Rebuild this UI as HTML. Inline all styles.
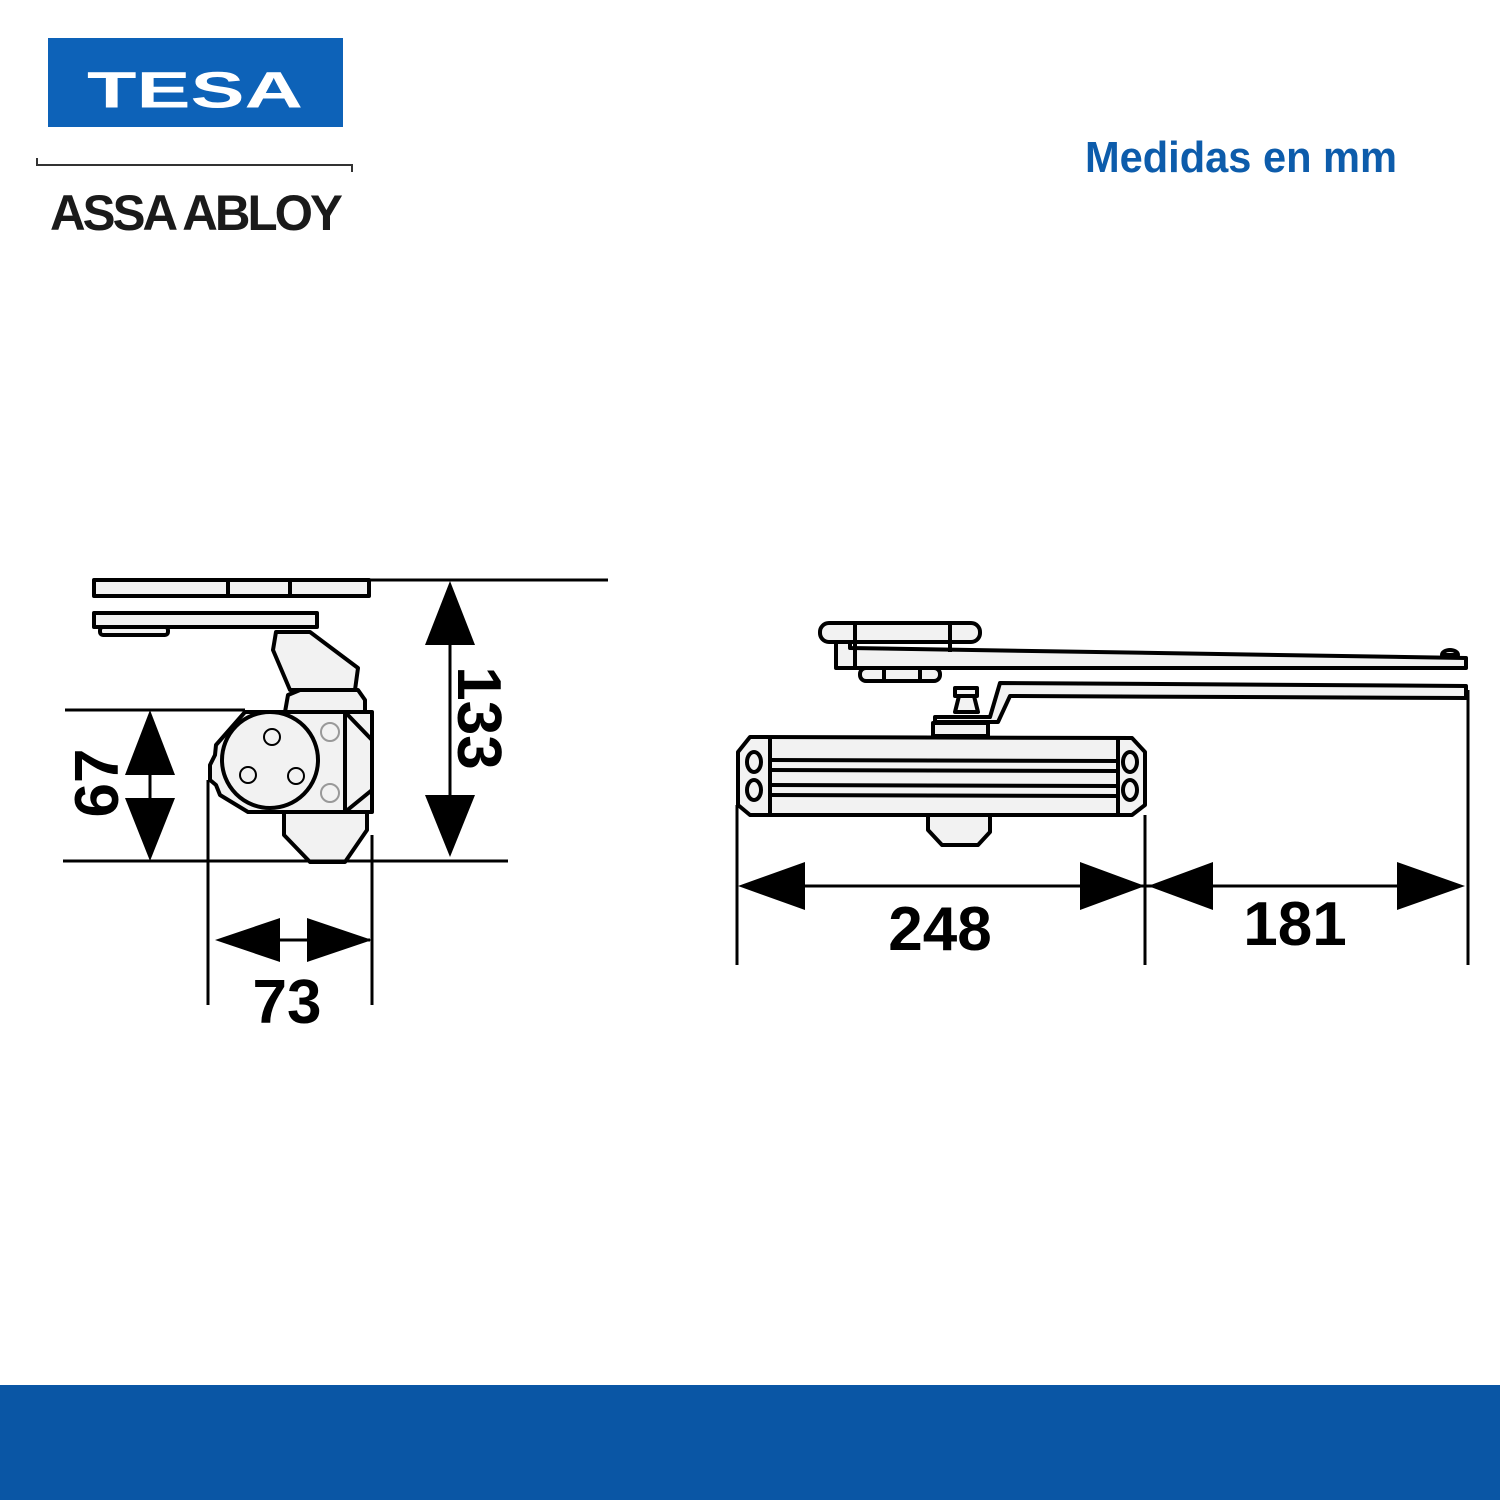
<!DOCTYPE html>
<html><head><meta charset="utf-8"><style>html,body{margin:0;padding:0;background:#fff}svg{display:block}</style></head><body>
<svg width="1500" height="1500" viewBox="0 0 1500 1500" xmlns="http://www.w3.org/2000/svg">
<rect x="48" y="38" width="295" height="89" fill="#0d62b8"/>
<text x="87" y="105" font-family="Liberation Sans, sans-serif" font-weight="bold" font-size="46" fill="#fff" textLength="216" lengthAdjust="spacingAndGlyphs" transform="translate(0,-8) scale(1,1.1)">TESA</text>
<path d="M37 158 V165 H352 V172" fill="none" stroke="#333" stroke-width="2"/>
<text x="50" y="230" font-family="Liberation Sans, sans-serif" font-weight="bold" font-size="50" fill="#1a1a1a" textLength="290" lengthAdjust="spacingAndGlyphs" letter-spacing="-3">ASSA ABLOY</text>
<text x="1085" y="172" font-family="Liberation Sans, sans-serif" font-weight="bold" font-size="44" fill="#0d5cab" textLength="312" lengthAdjust="spacingAndGlyphs">Medidas en mm</text>
<rect x="0" y="1385" width="1500" height="115" fill="#0a56a5"/>

<g fill="#f2f2f2" stroke="#000" stroke-width="4" stroke-linejoin="round">
<rect x="94" y="580" width="275" height="16"/>
<line x1="228" y1="580" x2="228" y2="596"/><line x1="290" y1="580" x2="290" y2="596"/>
<rect x="94" y="613" width="223" height="14"/>
<rect x="100" y="627" width="68" height="8" rx="3"/>
<path d="M276 632 L310 632 L358 668 L355 690 L290 690 L273 650 Z"/>
<path d="M285 712 L288 695 L300 690 L358 690 L365 700 L365 712 Z"/>
<path d="M245 712 L372 712 L372 812 L248 812 L220 795 L216 785 L210 780 L210 765 L215 755 L216 745 Z"/>
<circle cx="270" cy="760" r="48"/>
<line x1="345" y1="712" x2="345" y2="812"/>
<path d="M345 712 L372 740 M345 812 L372 790"/>
<path d="M284 812 L367 812 L367 830 L345 862 L310 862 L284 835 Z"/>
</g>
<g fill="none" stroke="#000" stroke-width="2">
<circle cx="272" cy="737" r="8"/><circle cx="248" cy="775" r="8"/><circle cx="296" cy="776" r="8"/>
<circle cx="330" cy="732" r="9" stroke="#999"/><circle cx="330" cy="793" r="9" stroke="#999"/>
</g>
<g stroke="#000" stroke-width="3" fill="none">
<line x1="370" y1="580" x2="608" y2="580"/>
<line x1="65" y1="710" x2="245" y2="710"/>
<line x1="63" y1="861" x2="508" y2="861"/>
<line x1="150" y1="720" x2="150" y2="850"/>
<line x1="450" y1="590" x2="450" y2="850"/>
<line x1="208" y1="780" x2="208" y2="1005"/>
<line x1="372" y1="835" x2="372" y2="1005"/>
<line x1="220" y1="940" x2="370" y2="940"/>
</g>
<g fill="#000">
<polygon points="150,710 125,775 175,775"/><polygon points="150,861 125,798 175,798"/>
<polygon points="450,581 425,645 475,645"/><polygon points="450,857 425,795 475,795"/>
<polygon points="215,940 280,918 280,962"/><polygon points="372,940 307,918 307,962"/>
</g>
<g font-family="Liberation Sans, sans-serif" font-weight="bold" fill="#000" font-size="62">
<text x="287" y="1023" text-anchor="middle">73</text>
<text transform="translate(458,718) rotate(90)" text-anchor="middle">133</text>
<text transform="translate(118,783) rotate(-90)" text-anchor="middle">67</text>
<text x="940" y="950" text-anchor="middle">248</text>
<text x="1295" y="945" text-anchor="middle">181</text>
</g>

<g fill="#f2f2f2" stroke="#000" stroke-width="4" stroke-linejoin="round">
<path d="M836 635 L836 668 L1466 668 L1466 658 L850 648 L850 635 Z"/>
<rect x="820" y="623" width="160" height="19" rx="9"/>
<line x1="855" y1="623" x2="855" y2="668"/><line x1="950" y1="623" x2="950" y2="652"/>
<rect x="860" y="668" width="80" height="13" rx="6"/>
<line x1="884" y1="668" x2="884" y2="681"/><line x1="920" y1="668" x2="920" y2="681"/>
<path d="M935 717 L990 717 L1000 683 L1466 686 L1466 698 L1010 696 L998 722 L935 722 Z"/>
<path d="M1442 655 a8 5 0 1 1 16 0 Z"/>
<rect x="955" y="688" width="22" height="8"/>
<path d="M959 696 L974 696 L978 712 L955 712 Z"/>
<rect x="933" y="723" width="55" height="13"/>
<path d="M750 737 L1132 738 L1145 752 L1145 805 L1132 815 L750 815 L738 805 L738 752 Z"/>
<line x1="770" y1="737" x2="770" y2="815"/><line x1="1118" y1="738" x2="1118" y2="815"/>
<line x1="770" y1="760" x2="1118" y2="761"/><line x1="770" y1="770" x2="1118" y2="771"/>
<line x1="770" y1="785" x2="1118" y2="786"/><line x1="770" y1="795" x2="1118" y2="796"/>
<path d="M928 815 L990 815 L990 832 L978 845 L942 845 L928 830 Z"/>
</g>
<g fill="none" stroke="#000" stroke-width="4">
<ellipse cx="754" cy="762" rx="7" ry="10"/><ellipse cx="754" cy="790" rx="7" ry="10"/>
<ellipse cx="1130" cy="762" rx="7" ry="10"/><ellipse cx="1130" cy="790" rx="7" ry="10"/>
</g>
<g stroke="#000" stroke-width="3">
<line x1="737" y1="805" x2="737" y2="965"/>
<line x1="1145" y1="815" x2="1145" y2="965"/>
<line x1="1468" y1="690" x2="1468" y2="965"/>
<line x1="745" y1="886" x2="1460" y2="886"/>
</g>
<g fill="#000">
<polygon points="738,886 805,862 805,910"/><polygon points="1145,886 1080,862 1080,910"/>
<polygon points="1148,886 1213,862 1213,910"/><polygon points="1465,886 1397,862 1397,910"/>
</g>
</svg>
</body></html>
